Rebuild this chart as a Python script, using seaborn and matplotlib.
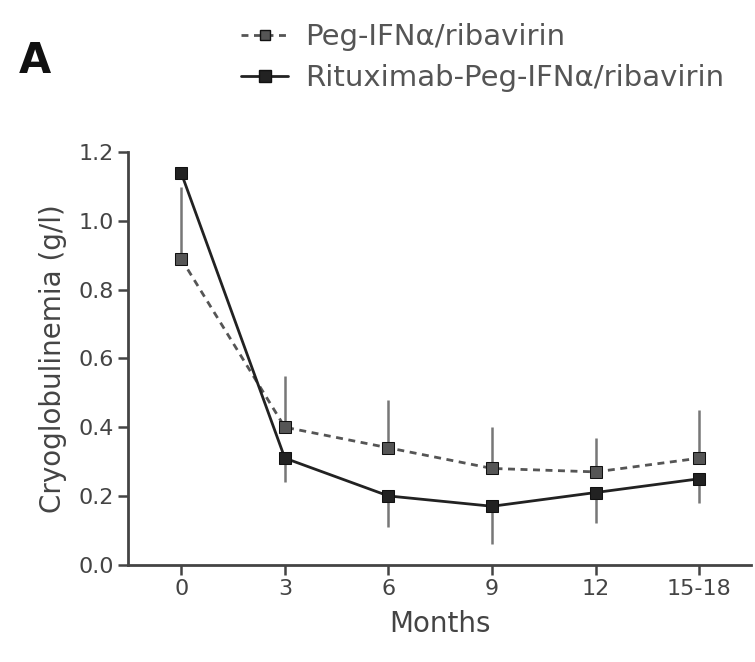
import numpy as np
import pandas as pd
import matplotlib
matplotlib.use("Agg")
import matplotlib.pyplot as plt
import seaborn as sns

# values
months = ["0", "3", "6", "9", "12", "15-18"]
peg_mean = [0.89, 0.40, 0.34, 0.28, 0.27, 0.31]
peg_err_up = [0.21, 0.15, 0.14, 0.12, 0.10, 0.14]
ritux_mean = [1.14, 0.31, 0.20, 0.17, 0.21, 0.25]
ritux_err_down = [0.00, 0.07, 0.09, 0.11, 0.09, 0.07]

labels = ["Peg-IFN\u03b1/ribavirin", "Rituximab-Peg-IFN\u03b1/ribavirin"]

sns.set_theme(style="ticks")
plt.rcParams["font.family"] = ["DejaVu Sans"]

pos = np.arange(len(months))
df = pd.DataFrame({
    "pos": np.concatenate([pos, pos]),
    "value": peg_mean + ritux_mean,
    "group": [labels[0]] * len(months) + [labels[1]] * len(months),
})

fig = plt.figure(figsize=(7.55, 6.62), dpi=100)
ax = fig.add_axes([0.170, 0.147, 0.825, 0.623])

# error bars (one-sided, as in the original)
ax.errorbar(pos, peg_mean, yerr=[np.zeros(len(pos)), peg_err_up], fmt="none",
            ecolor="#777777", elinewidth=1.8, capsize=0, zorder=1)
ax.errorbar(pos, ritux_mean, yerr=[ritux_err_down, np.zeros(len(pos))], fmt="none",
            ecolor="#777777", elinewidth=1.8, capsize=0, zorder=1)

sns.lineplot(data=df, x="pos", y="value", hue="group", style="group",
             palette=["#555555", "#222222"], dashes=[(2.5, 2), ""],
             markers=["s", "s"], markersize=8, linewidth=2.0,
             markeredgecolor="#111111", ax=ax, legend=False, zorder=3)

ax.set_xlim(-0.51, 5.5)
ax.set_ylim(0, 1.2)
ax.set_yticks(np.arange(0, 1.21, 0.2))
ax.set_yticklabels([f"{v:.1f}" for v in np.arange(0, 1.21, 0.2)])
ax.set_xticks(pos)
ax.set_xticklabels(months)
ax.tick_params(axis="both", labelsize=16, width=1.8, length=7, colors="#444444")
ax.set_xlabel("Months", fontsize=20, color="#444444", labelpad=8)
ax.set_ylabel("Cryoglobulinemia (g/l)", fontsize=20, color="#444444", labelpad=8)
for side in ["left", "bottom"]:
    ax.spines[side].set_linewidth(2.0)
    ax.spines[side].set_color("#444444")
sns.despine(ax=ax)

# legend at the top of the figure
h1, = ax.plot([], [], color="#555555", linestyle=(0, (2.5, 2)), marker="s",
              markersize=7, linewidth=2, markeredgecolor="#111111")
h2, = ax.plot([], [], color="#222222", linestyle="-", marker="s",
              markersize=8, linewidth=2, markeredgecolor="#111111")
fig.legend([h1, h2], labels, loc="upper left", bbox_to_anchor=(0.285, 1.005),
           frameon=False, fontsize=21, handlelength=1.6, handletextpad=0.6,
           labelspacing=0.45, labelcolor="#555555")

fig.text(0.025, 0.89, "A", fontsize=30, fontweight="bold", color="#111111")

fig.savefig("out.png", dpi=100)
